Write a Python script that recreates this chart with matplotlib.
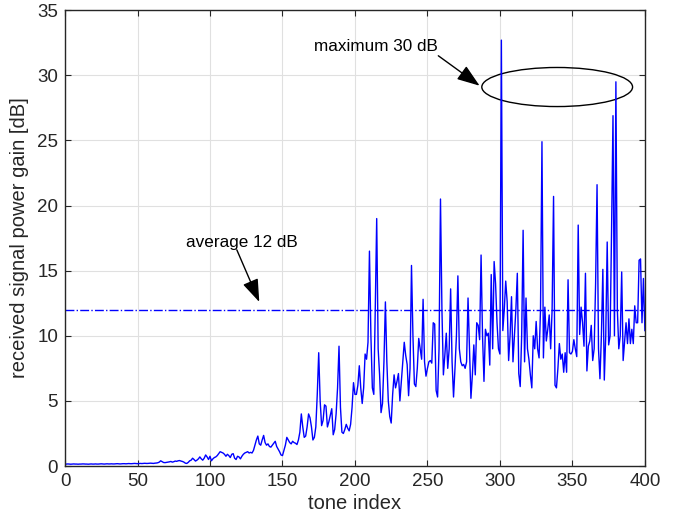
import numpy as np
import matplotlib
matplotlib.use("Agg")
import matplotlib.pyplot as plt
from matplotlib.patches import Ellipse

plt.rcParams["font.family"] = ["Liberation Sans", "DejaVu Sans"]

# received power gain per tone (dB), tones 1..400
gain_db = [
    0.15, 0.16, 0.15, 0.14, 0.15, 0.16, 0.15, 0.15, 0.14, 0.15,
    0.15, 0.16, 0.16, 0.15, 0.15, 0.14, 0.15, 0.16, 0.15, 0.15,
    0.16, 0.15, 0.15, 0.16, 0.17, 0.16, 0.15, 0.16, 0.17, 0.16,
    0.16, 0.17, 0.16, 0.16, 0.17, 0.18, 0.17, 0.16, 0.17, 0.18,
    0.18, 0.17, 0.18, 0.19, 0.18, 0.18, 0.19, 0.20, 0.19, 0.18,
    0.19, 0.20, 0.19, 0.20, 0.21, 0.20, 0.20, 0.21, 0.22, 0.21,
    0.20, 0.22, 0.23, 0.25, 0.30, 0.40, 0.33, 0.27, 0.26, 0.28,
    0.30, 0.32, 0.35, 0.30, 0.33, 0.38, 0.36, 0.40, 0.42, 0.38,
    0.35, 0.30, 0.22, 0.20, 0.28, 0.40, 0.45, 0.60, 0.50, 0.38,
    0.45, 0.55, 0.70, 0.55, 0.45, 0.60, 0.85, 0.70, 0.50, 0.75,
    0.40, 0.55, 0.65, 0.70, 0.80, 0.95, 1.10, 1.05, 1.00, 0.90,
    0.75, 0.90, 0.80, 0.65, 0.90, 0.95, 0.60, 0.50, 0.75, 0.70,
    0.55, 0.75, 0.90, 1.00, 1.05, 1.10, 1.00, 1.05, 1.00, 1.20,
    1.60, 2.00, 2.30, 1.70, 1.60, 2.00, 2.35, 1.80, 1.60, 1.70,
    1.50, 1.45, 1.60, 1.75, 1.90, 1.50, 1.30, 1.10, 0.85, 0.80,
    1.20, 1.60, 2.20, 2.00, 1.80, 1.70, 1.90, 1.80, 1.75, 1.65,
    2.00, 2.60, 4.00, 3.00, 2.20, 2.30, 3.00, 4.00, 3.70, 3.00,
    2.00, 2.20, 3.00, 5.50, 8.70, 5.00, 3.10, 3.50, 4.70, 4.60,
    3.00, 3.40, 3.90, 4.40, 2.40, 2.80, 4.00, 6.00, 9.20, 4.50,
    2.60, 2.50, 2.80, 3.20, 2.90, 2.70, 3.20, 4.50, 6.40, 5.50,
    5.50, 6.20, 7.70, 6.00, 4.80, 6.00, 8.60, 8.20, 9.50, 16.5,
    10.0, 6.00, 5.50, 12.0, 19.0, 9.00, 7.00, 4.10, 4.80, 8.00,
    12.6, 8.00, 5.00, 3.80, 3.30, 5.50, 7.00, 6.00, 6.50, 7.10,
    5.00, 6.50, 8.00, 9.50, 8.50, 7.80, 5.40, 7.50, 15.4, 10.0,
    6.30, 6.10, 7.50, 9.80, 9.00, 8.20, 12.8, 8.00, 6.90, 7.50,
    8.00, 8.10, 7.90, 11.0, 10.9, 5.80, 5.30, 9.00, 20.5, 12.0,
    7.00, 8.50, 10.2, 7.50, 9.00, 13.6, 8.00, 5.30, 7.50, 10.0,
    14.6, 9.00, 8.00, 7.70, 7.80, 7.50, 8.00, 12.9, 9.00, 5.20,
    7.00, 9.30, 7.00, 11.0, 10.8, 9.70, 16.2, 10.0, 6.50, 10.5,
    10.0, 10.2, 7.75, 14.7, 9.00, 15.7, 14.0, 11.0, 9.00, 8.60,
    32.7, 10.4, 12.0, 14.2, 12.6, 8.10, 10.0, 13.0, 8.00, 10.0,
    12.0, 14.8, 7.10, 6.10, 10.0, 18.1, 8.00, 12.9, 9.00, 8.20,
    7.00, 6.00, 10.0, 9.00, 11.1, 9.00, 8.30, 12.0, 24.9, 8.30,
    12.2, 9.60, 10.5, 11.6, 9.00, 12.0, 20.7, 6.20, 6.00, 7.50,
    9.40, 8.20, 8.60, 7.20, 8.70, 7.20, 14.3, 8.70, 8.60, 8.80,
    9.70, 9.00, 8.40, 18.5, 10.1, 12.2, 11.0, 9.20, 14.8, 7.30,
    9.20, 9.60, 10.8, 8.10, 9.00, 14.0, 21.6, 9.00, 6.70, 10.0,
    15.1, 6.60, 10.0, 17.2, 9.30, 10.0, 18.0, 26.9, 10.0, 29.5,
    12.0, 9.00, 10.0, 14.9, 8.10, 9.50, 11.0, 9.40, 11.3, 9.40,
    10.5, 9.40, 12.3, 11.0, 11.0, 15.8, 15.9, 11.0, 14.4, 10.4,
]
tones = np.arange(1, len(gain_db) + 1)
average_db = 12

fig = plt.figure(figsize=(6.83, 5.27), dpi=100)
ax = fig.add_axes([0.0952, 0.1157, 0.849, 0.865])

ax.plot(tones, gain_db, color="blue", lw=1.0)
ax.plot([0, 400], [average_db, average_db], color="blue", lw=1.0, ls="-.")

ax.set_xlim(0, 400)
ax.set_ylim(0, 35)
ax.set_xticks(np.arange(0, 401, 50))
ax.set_yticks(np.arange(0, 36, 5))
ax.grid(True, color="#e0e0e0", lw=0.8)
ax.set_axisbelow(True)
ax.tick_params(direction="in", top=True, right=True, labelsize=13.5,
               color="#262626", labelcolor="#262626", length=4, pad=5)
for spine in ax.spines.values():
    spine.set_color("#262626")
    spine.set_linewidth(1.0)

ax.set_xlabel("tone index", fontsize=14.5, color="#262626", labelpad=3)
ax.set_ylabel("received signal power gain [dB]", fontsize=14.5,
              color="#262626", labelpad=6)

arrow = dict(arrowstyle="-|>,head_length=1.4,head_width=0.5", color="black",
             lw=1.0, shrinkA=0, shrinkB=0, mutation_scale=10)
ax.text(122, 17.2, "average 12 dB", fontsize=12.3, ha="center", va="center")
ax.annotate("", xy=(134, 12.6), xytext=(118.5, 16.6), arrowprops=arrow)

ax.text(214.5, 32.2, "maximum 30 dB", fontsize=12.3, ha="center", va="center")
ax.annotate("", xy=(286, 29.2), xytext=(257.5, 31.5), arrowprops=arrow)
ax.add_patch(Ellipse((339.5, 29.1), 104, 3.0, fill=False, ec="black", lw=1.0))

fig.savefig("out.png", dpi=100)
